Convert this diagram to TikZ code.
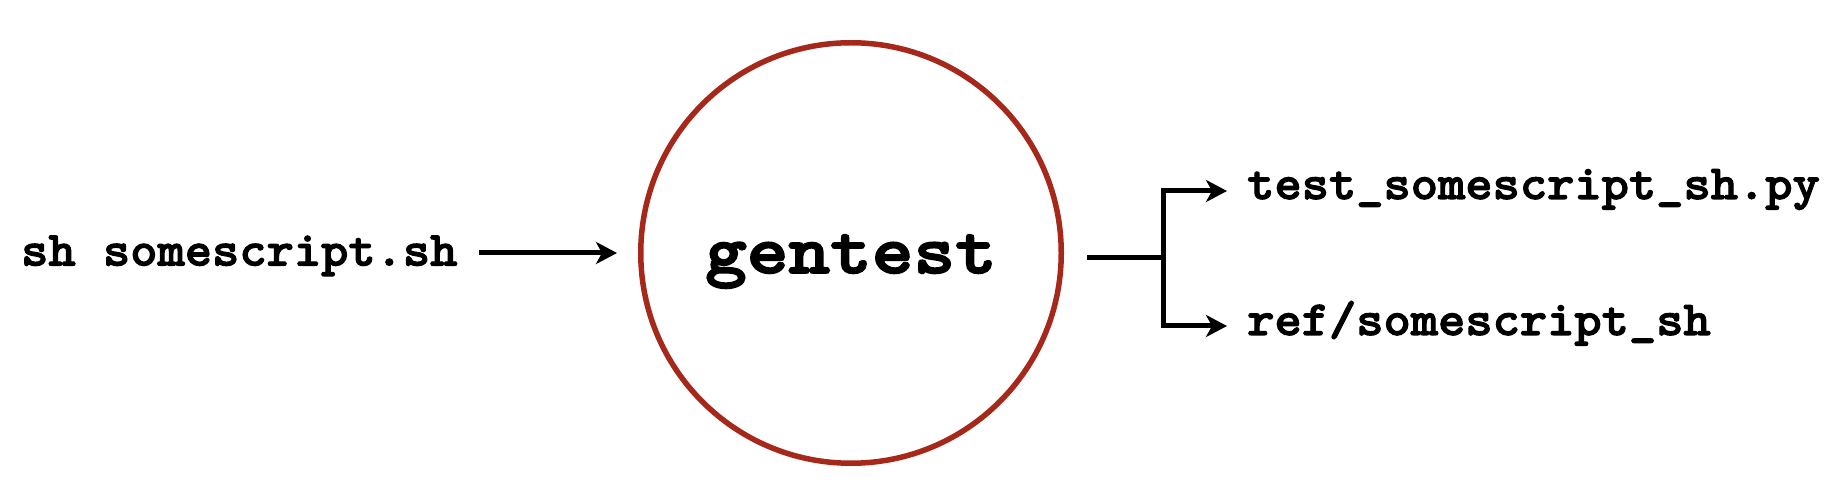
\documentclass[tikz,border=0pt]{standalone}
\usepackage{fontspec}
\usetikzlibrary{arrows.meta}
\newfontfamily\labelfont{lmmonolt10-bold.otf}[FakeStretch=1.06, FakeBold=2.2]
\newfontfamily\bigfont{lmmonolt10-bold.otf}[FakeStretch=1.15, FakeBold=2.6]
\definecolor{ringred}{RGB}{166,40,26}
\tikzset{
  lbl/.style={inner sep=0pt, anchor=base west, font=\labelfont\fontsize{49}{59}\selectfont},
  conn/.style={line width=5pt, line join=miter, -{Stealth[length=21pt, width=22pt, inset=6pt]}},
  plain/.style={line width=5pt},
  ring/.style={circle, draw=ringred, line width=5.5pt, minimum size=420.5pt, inner sep=0pt}
}
\begin{document}
\begin{tikzpicture}[x=1pt,y=1pt]
\useasboundingbox (0,0) rectangle (1840,501);
\node[ring] (g) at (851,248) {};
\node[inner sep=0pt, anchor=base, font=\bigfont\fontsize{69}{80}\selectfont] (gt) at (851,228) {gentest};
\node[lbl] (in) at (21,235.5) {sh somescript.sh};
\coordinate (inend) at (479,248);
\coordinate (intip) at (617,248);
\draw[conn] (inend) -- (intip);
\coordinate (o1) at (1087,243);
\coordinate (br) at (1163,243);
\coordinate (a1) at (1227,310);
\coordinate (a2) at (1227,175);
\node[lbl] (t1) at (1247,302) {test\_somescript\_sh.py};
\node[lbl] (t2) at (1247,166) {ref/somescript\_sh};
\draw[plain] (o1) -- (br);
\draw[conn] (br) |- (a1);
\draw[conn] (br) |- (a2);
\end{tikzpicture}
\end{document}
